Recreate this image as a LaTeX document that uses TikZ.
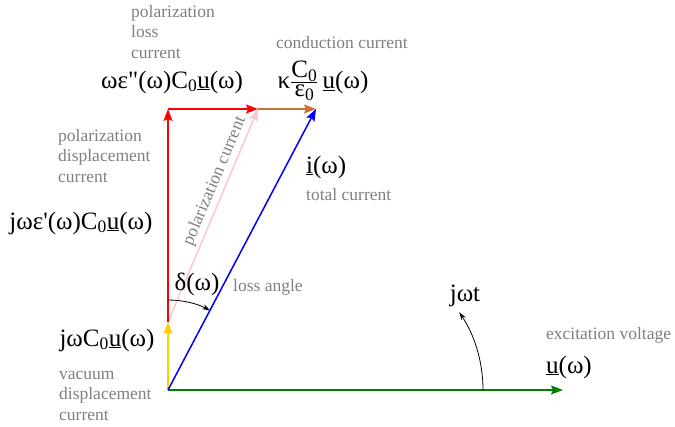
\documentclass[tikz,border=0pt]{standalone}
\usepackage{fontspec}
\setmainfont{Liberation Serif}
\usepackage{tikz}
\usetikzlibrary{arrows.meta}
\definecolor{vgreen}{RGB}{0,128,0}
\definecolor{vyellow}{RGB}{255,204,0}
\definecolor{vbrown}{RGB}{200,113,55}
\definecolor{vpink}{RGB}{255,200,200}
\definecolor{vgray}{RGB}{128,128,128}
\newcommand{\uu}{\underline{u}}
\newcommand{\sz}{\textsubscript{0}}

\begin{document}
\begin{tikzpicture}[x=1pt, y=1pt, >={Stealth[length=12pt,width=9pt,inset=2pt]},
	phasor/.style={->, line width=1.5pt},
	turn/.style={-{Stealth[length=8pt,width=5pt]}, line width=0.8pt},
	lbl/.style={font=\fontsize{25}{28}\selectfont, inner sep=0pt},
	note/.style={text=vgray, font=\fontsize{17.5}{20.5}\selectfont, align=left, inner sep=0pt}]
	\useasboundingbox (0,0) rectangle (675,-426);
	\coordinate (O) at (168,-390);
	\coordinate (U) at (563,-390);
	\coordinate (Y) at (168,-322);
	\coordinate (R) at (168,-109);
	\coordinate (P) at (258,-109);
	\coordinate (T) at (316,-109);
	\draw[phasor, vpink] (Y) -- (P) node[note, pos=0.64, sloped, above=3pt] (polNote) {polarization current};
	\draw[phasor, vgreen] (O) -- (U);
	\draw[phasor, vyellow] (O) -- (Y);
	\draw[phasor, red] (Y) -- (R);
	\draw[phasor, red] (R) -- (P);
	\draw[phasor, vbrown] (P) -- (T);
	\draw[phasor, blue] (O) -- (T);
	\draw[turn] (168,-300) arc[start angle=90, end angle=62, radius=90];
	\draw[turn] (483,-390) arc[start angle=0, end angle=34, radius=139];
	\node[lbl] (lossLbl) at (172,-82) {ωε\textquotedbl(ω)C\sz\uu(ω)};
	\node[lbl] (condLbl) at (323,-81) {κ$\frac{\mbox{C\sz}}{\mbox{ε\sz}}$\,\uu(ω)};
	\node[lbl] (dispLbl) at (81,-223) {jωε\textquotesingle(ω)C\sz\uu(ω)};
	\node[lbl] (vacLbl) at (107,-340) {jωC\sz\uu(ω)};
	\node[lbl, anchor=west] (iLbl) at (306,-167) {\underline{i}(ω)};
	\node[lbl, anchor=west] (uLbl) at (546,-367) {\uu(ω)};
	\node[lbl] (delta) at (197,-284) {δ(ω)};
	\node[lbl] (wt) at (465,-296) {jωt};
	\node[note] (condNote) at (342,-43) {conduction current};
	\node[note, anchor=west] (iNote) at (306,-195) {total current};
	\node[note, anchor=west] (uNote) at (546,-335) {excitation voltage};
	\node[note, anchor=west] (deltaNote) at (233,-287) {loss angle};
	\node[note, anchor=base west] (lossNote) at (131,-58) {polarization\\loss\\current};
	\node[note, anchor=base west] (dispNote) at (58,-182) {polarization\\displacement\\current};
	\node[note, anchor=base west] (vacNote) at (59,-420) {vacuum\\displacement\\current};
\end{tikzpicture}
\end{document}
